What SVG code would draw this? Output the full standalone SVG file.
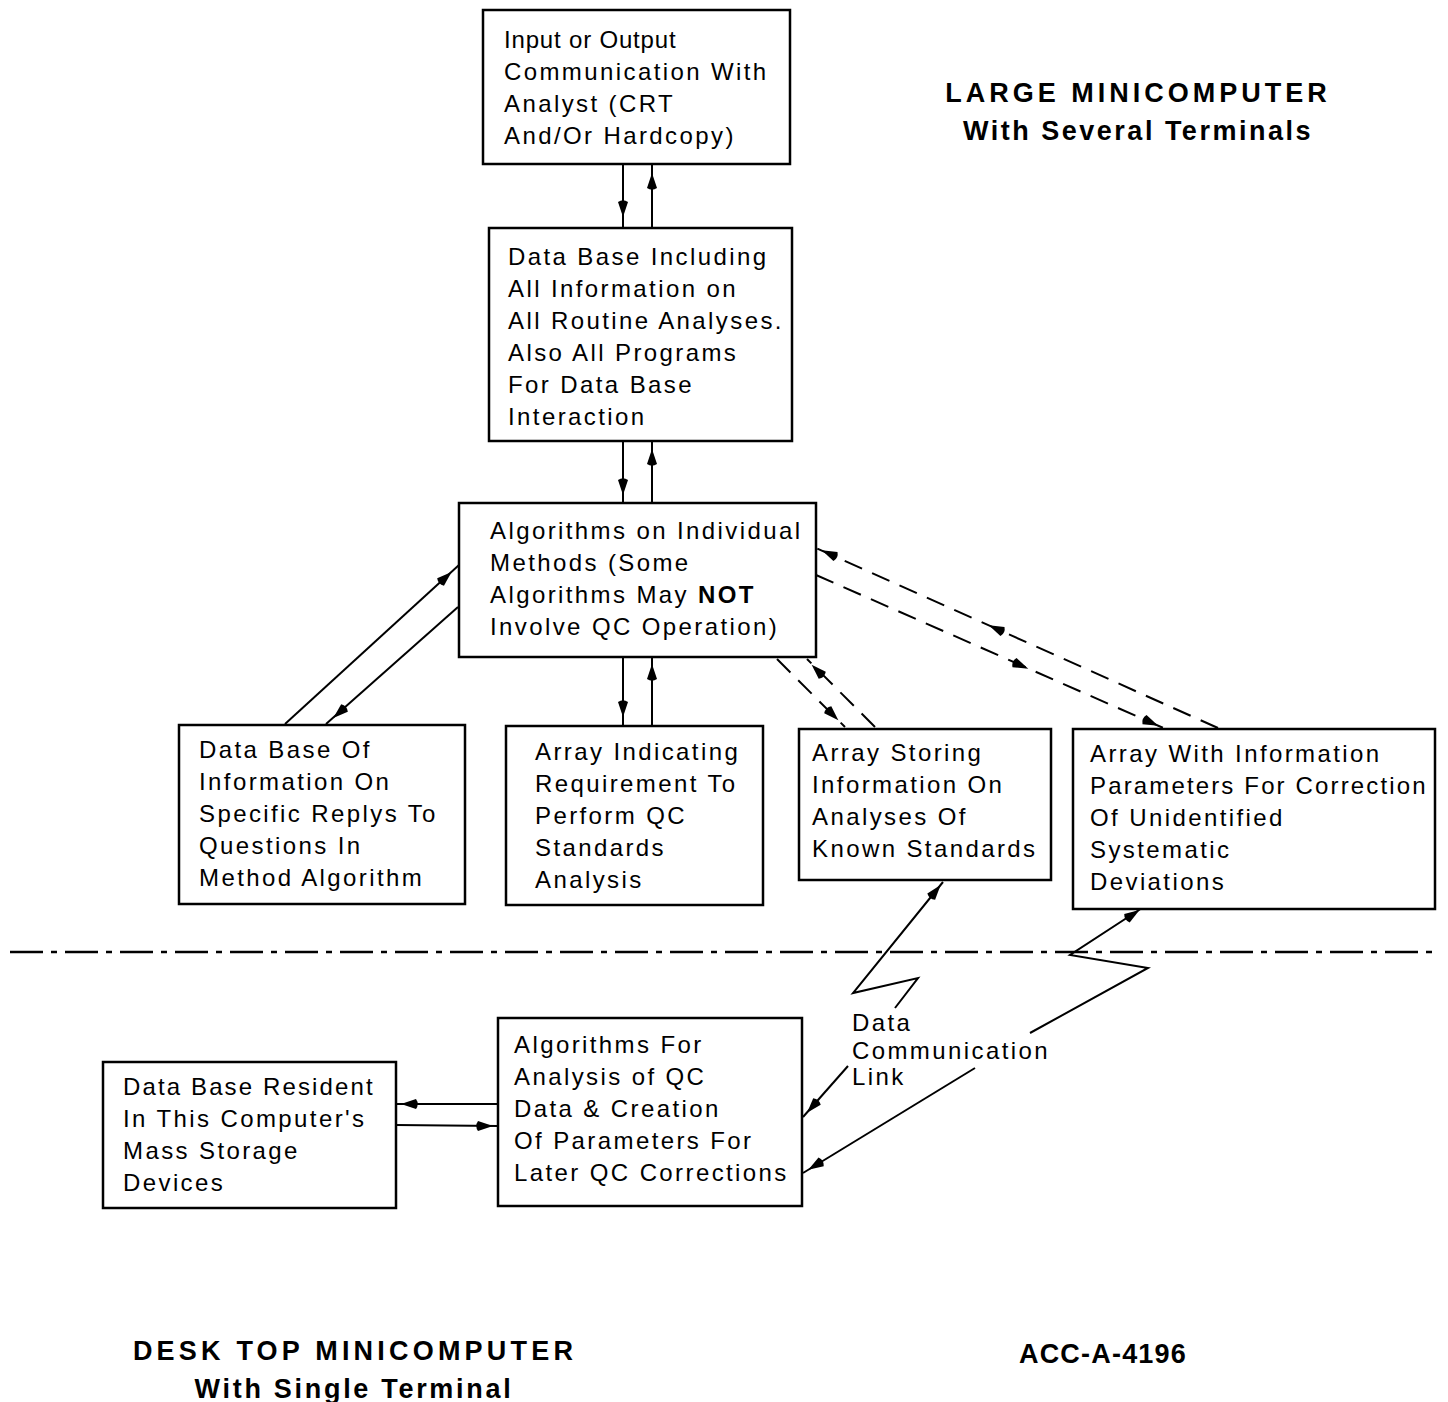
<svg xmlns="http://www.w3.org/2000/svg" xmlns:xlink="http://www.w3.org/1999/xlink" width="1448" height="1402" viewBox="0 0 1448 1402">
<style>
.box{fill:#fff;stroke:#000;stroke-width:2.5}
.t{font-family:"Liberation Sans",Arial,sans-serif;font-size:24px;letter-spacing:2.4px;fill:#000}
.ttl{font-family:"Liberation Sans",Arial,sans-serif;font-size:27px;font-weight:bold;fill:#000;text-anchor:middle}
.ln{fill:none;stroke:#000;stroke-width:2}
.dl{fill:none;stroke:#000;stroke-width:2;stroke-dasharray:19 11}
.div{fill:none;stroke:#000;stroke-width:2.5;stroke-dasharray:33 8 6 8}
</style>
<defs>
<path id="ah" d="M9 0 L-6 -5 Q-9.5 0 -6 5 Z" fill="#000"/>
</defs>
<rect width="1448" height="1402" fill="#fff"/>

<g id="connectors">
<line class="ln" x1="623" y1="164" x2="623" y2="228"/>
<line class="ln" x1="652" y1="164" x2="652" y2="228"/>
<use xlink:href="#ah" transform="translate(623,208) rotate(90)"/>
<use xlink:href="#ah" transform="translate(652,182) rotate(-90)"/>
<line class="ln" x1="623" y1="441" x2="623" y2="503"/>
<line class="ln" x1="652" y1="441" x2="652" y2="503"/>
<use xlink:href="#ah" transform="translate(623,486) rotate(90)"/>
<use xlink:href="#ah" transform="translate(652,458) rotate(-90)"/>
<line class="ln" x1="623" y1="657" x2="623" y2="726"/>
<line class="ln" x1="652" y1="657" x2="652" y2="726"/>
<use xlink:href="#ah" transform="translate(623,708) rotate(90)"/>
<use xlink:href="#ah" transform="translate(652,673) rotate(-90)"/>
<line class="ln" x1="285" y1="724" x2="459" y2="565"/>
<use xlink:href="#ah" transform="translate(445,578) rotate(-42.4)"/>
<line class="ln" x1="458" y1="607" x2="326" y2="724"/>
<use xlink:href="#ah" transform="translate(340,712) rotate(138.4)"/>
<line class="dl" x1="777" y1="659" x2="845" y2="727"/>
<use xlink:href="#ah" transform="translate(832,714) rotate(45)"/>
<line class="dl" x1="875" y1="727" x2="807" y2="659"/>
<use xlink:href="#ah" transform="translate(818,671) rotate(225)"/>
<line class="dl" x1="1218" y1="728" x2="816" y2="548"/>
<use xlink:href="#ah" transform="translate(997,629) rotate(204.1)"/>
<use xlink:href="#ah" transform="translate(830,554) rotate(204.1)"/>
<line class="dl" x1="816" y1="575" x2="1168" y2="730"/>
<use xlink:href="#ah" transform="translate(1020,665) rotate(23.8)"/>
<use xlink:href="#ah" transform="translate(1150,722) rotate(23.8)"/>
<polyline class="ln" points="943,882 853,993 918,978 895,1008"/>
<use xlink:href="#ah" transform="translate(935,892) rotate(-51)"/>
<line class="ln" x1="848" y1="1066" x2="803" y2="1117"/>
<use xlink:href="#ah" transform="translate(813,1106) rotate(131.4)"/>
<polyline class="ln" points="1142,908 1070,955 1148,968 1030,1033"/>
<use xlink:href="#ah" transform="translate(1132,915) rotate(-33)"/>
<line class="ln" x1="975" y1="1068" x2="803" y2="1173"/>
<use xlink:href="#ah" transform="translate(816,1165) rotate(148.5)"/>
<line class="ln" x1="396" y1="1104" x2="498" y2="1104"/>
<use xlink:href="#ah" transform="translate(410,1104) rotate(180)"/>
<line class="ln" x1="396" y1="1125" x2="498" y2="1126"/>
<use xlink:href="#ah" transform="translate(484,1126)"/>
</g>

<line class="div" x1="10" y1="952" x2="1438" y2="952"/>

<g id="n1">
<rect class="box" x="483" y="10" width="307" height="154"/>
<text class="t" x="504" y="48" textLength="174" lengthAdjust="spacing">Input or Output</text>
<text class="t" x="504" y="80">Communication With</text>
<text class="t" x="504" y="112">Analyst (CRT</text>
<text class="t" x="504" y="144">And/Or Hardcopy)</text>
</g>
<g id="n2">
<rect class="box" x="489" y="228" width="303" height="213"/>
<text class="t" x="508" y="265">Data Base Including</text>
<text class="t" x="508" y="297">All Information on</text>
<text class="t" x="508" y="329">All Routine Analyses.</text>
<text class="t" x="508" y="361">Also All Programs</text>
<text class="t" x="508" y="393">For Data Base</text>
<text class="t" x="508" y="425">Interaction</text>
</g>
<g id="n3">
<rect class="box" x="459" y="503" width="357" height="154"/>
<text class="t" x="490" y="539">Algorithms on Individual</text>
<text class="t" x="490" y="571">Methods (Some</text>
<text class="t" x="490" y="603">Algorithms May <tspan font-weight="bold">NOT</tspan></text>
<text class="t" x="490" y="635">Involve QC Operation)</text>
</g>
<g id="n4">
<rect class="box" x="179" y="725" width="286" height="179"/>
<text class="t" x="199" y="758">Data Base Of</text>
<text class="t" x="199" y="790">Information On</text>
<text class="t" x="199" y="822">Specific Replys To</text>
<text class="t" x="199" y="854">Questions In</text>
<text class="t" x="199" y="886">Method Algorithm</text>
</g>
<g id="n5">
<rect class="box" x="506" y="726" width="257" height="179"/>
<text class="t" x="535" y="760">Array Indicating</text>
<text class="t" x="535" y="792">Requirement To</text>
<text class="t" x="535" y="824">Perform QC</text>
<text class="t" x="535" y="856">Standards</text>
<text class="t" x="535" y="888">Analysis</text>
</g>
<g id="n6">
<rect class="box" x="799" y="729" width="252" height="151"/>
<text class="t" x="812" y="761">Array Storing</text>
<text class="t" x="812" y="793">Information On</text>
<text class="t" x="812" y="825">Analyses Of</text>
<text class="t" x="812" y="857">Known Standards</text>
</g>
<g id="n7">
<rect class="box" x="1073" y="729" width="362" height="180"/>
<text class="t" x="1090" y="762">Array With Information</text>
<text class="t" x="1090" y="794" textLength="338" lengthAdjust="spacing">Parameters For Correction</text>
<text class="t" x="1090" y="826">Of Unidentified</text>
<text class="t" x="1090" y="858">Systematic</text>
<text class="t" x="1090" y="890">Deviations</text>
</g>
<g id="n8">
<rect class="box" x="103" y="1062" width="293" height="146"/>
<text class="t" x="123" y="1095" textLength="252" lengthAdjust="spacing">Data Base Resident</text>
<text class="t" x="123" y="1127">In This Computer's</text>
<text class="t" x="123" y="1159">Mass Storage</text>
<text class="t" x="123" y="1191">Devices</text>
</g>
<g id="n9">
<rect class="box" x="498" y="1018" width="304" height="188"/>
<text class="t" x="514" y="1053">Algorithms For</text>
<text class="t" x="514" y="1085">Analysis of QC</text>
<text class="t" x="514" y="1117">Data &amp; Creation</text>
<text class="t" x="514" y="1149">Of Parameters For</text>
<text class="t" x="514" y="1181">Later QC Corrections</text>
</g>
<g id="link-label">
<text class="t" x="852" y="1031">Data</text>
<text class="t" x="852" y="1059">Communication</text>
<text class="t" x="852" y="1085">Link</text>
</g>
<g id="titles">
<text class="ttl" x="1138" y="102" letter-spacing="4">LARGE MINICOMPUTER</text>
<text class="ttl" x="1138" y="140" letter-spacing="2.5">With Several Terminals</text>
<text class="ttl" x="355" y="1360" letter-spacing="4.2">DESK TOP MINICOMPUTER</text>
<text class="ttl" x="354" y="1398" letter-spacing="2.7">With Single Terminal</text>
<text class="ttl" x="1103" y="1363" font-size="20" letter-spacing="1.2">ACC-A-4196</text>
</g>
</svg>
